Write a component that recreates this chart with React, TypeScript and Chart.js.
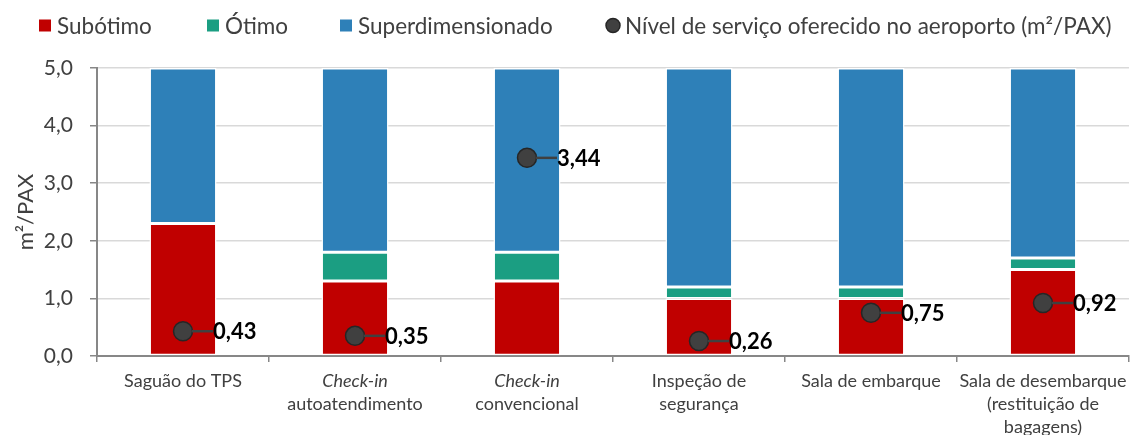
import React, { useEffect, useRef } from "react";
import { Chart, registerables } from "chart.js";

Chart.register(...registerables);

// ---- data ----
const categories: string[][] = [
  ["Saguão do TPS"],
  ["Check-in", "autoatendimento"],
  ["Check-in", "convencional"],
  ["Inspeção de", "segurança"],
  ["Sala de embarque"],
  ["Sala de desembarque", "(restituição de", "bagagens)"],
];
const italicFirstLine = [false, true, true, false, false, false];
const subotimo = [2.3, 1.3, 1.3, 1.0, 1.0, 1.5];
const otimo = [0, 0.5, 0.5, 0.2, 0.2, 0.2];
const superdimensionado = [2.7, 3.2, 3.2, 3.8, 3.8, 3.3];
const nivelServico = [0.43, 0.35, 3.44, 0.26, 0.75, 0.92];
const yTickValues = [0, 1, 2, 3, 4, 5];
const seriesNames = ["Subótimo", "Ótimo", "Superdimensionado", "Nível de serviço oferecido no aeroporto (m²/PAX)"];

// ---- style ----
const FONT = "Lato, 'Liberation Sans', sans-serif";
const RED = "#C00000";
const GREEN = "#1B9E82";
const BLUE = "#2E80B8";
const DOT = "#404040";
const TEXT = "#404040";
const legendX = [39, 207, 340, 606];

const fmt = (v: number, d: number) => v.toFixed(d).replace(".", ",");

export default function App() {
  const ref = useRef<HTMLCanvasElement | null>(null);

  useEffect(() => {
    document.body.style.margin = "0";
    const canvas = ref.current!;

    const customPlugin = {
      id: "custom",
      afterDatasetsDraw(chart: any) {
        const ctx = chart.ctx;
        const meta = chart.getDatasetMeta(3);
        ctx.save();
        meta.data.forEach((pt: any, i: number) => {
          const x = pt.x, y = pt.y;
          ctx.strokeStyle = DOT;
          ctx.lineWidth = 2.5;
          ctx.beginPath();
          ctx.moveTo(x + 9, y);
          ctx.lineTo(x + 30, y);
          ctx.stroke();
          ctx.fillStyle = "#000";
          ctx.font = `bold 22px ${FONT}`;
          ctx.textAlign = "left";
          ctx.textBaseline = "middle";
          ctx.fillText(fmt(nivelServico[i], 2), x + 30, y + 1);
        });
        ctx.restore();
      },
      afterDraw(chart: any) {
        const ctx = chart.ctx;
        const xs = chart.scales.x;
        const area = chart.chartArea;
        ctx.save();
        // x labels
        ctx.fillStyle = TEXT;
        ctx.textAlign = "center";
        ctx.textBaseline = "middle";
        categories.forEach((lines, i) => {
          const x = xs.getPixelForValue(i);
          lines.forEach((line, k) => {
            const it = k === 0 && italicFirstLine[i];
            ctx.font = `${it ? "italic " : ""}18px ${FONT}`;
            ctx.fillText(line, x, area.bottom + 25 + k * 23);
          });
        });
        // legend
        ctx.font = `22.5px ${FONT}`;
        ctx.textAlign = "left";
        const colors = [RED, GREEN, BLUE, DOT];
        seriesNames.forEach((name, i) => {
          const lx = legendX[i];
          const cy = 25.5;
          if (i < 3) {
            ctx.fillStyle = colors[i];
            ctx.fillRect(lx, cy - 6, 12, 12);
          } else {
            ctx.beginPath();
            ctx.arc(lx + 7, cy, 7, 0, Math.PI * 2);
            ctx.fillStyle = DOT;
            ctx.fill();
            ctx.strokeStyle = "#262626";
            ctx.lineWidth = 1.5;
            ctx.stroke();
          }
          ctx.fillStyle = TEXT;
          ctx.fillText(name, lx + (i < 3 ? 18 : 19), cy + 1);
        });
        ctx.restore();
      },
    };

    const barCommon = {
      type: "bar" as const,
      borderColor: "#ffffff",
      borderWidth: 1.5,
      borderSkipped: false,
      barPercentage: 0.39,
      categoryPercentage: 1,
      stack: "s",
      order: 1,
    };

    const chart = new Chart(canvas, {
      data: {
        labels: categories.map((c) => c.join(" ")),
        datasets: [
          { ...barCommon, label: seriesNames[0], data: subotimo, backgroundColor: RED },
          { ...barCommon, label: seriesNames[1], data: otimo, backgroundColor: GREEN },
          { ...barCommon, label: seriesNames[2], data: superdimensionado, backgroundColor: BLUE },
          {
            type: "line" as const,
            label: seriesNames[3],
            data: nivelServico,
            showLine: false,
            pointRadius: 9.5,
            pointHoverRadius: 9.5,
            pointBackgroundColor: DOT,
            pointBorderColor: "#262626",
            pointBorderWidth: 1.5,
            stack: "p",
            order: 0,
          },
        ],
      } as any,
      options: {
        animation: false,
        responsive: false,
        maintainAspectRatio: false,
        layout: { padding: { top: 68, bottom: 73, left: 0, right: 1 } },
        plugins: {
          legend: { display: false },
          tooltip: { enabled: false },
        },
        scales: {
          x: {
            stacked: true,
            offset: true,
            grid: {
              display: true,
              offset: true,
              drawOnChartArea: false,
              drawTicks: true,
              tickLength: 6,
              color: "#878787",
              lineWidth: 1.5,
            },
            border: { display: true, color: "#878787", width: 2 },
            ticks: { display: false },
          },
          y: {
            stacked: true,
            min: 0,
            max: 5,
            afterBuildTicks: (scale: any) => {
              scale.ticks = yTickValues.map((v) => ({ value: v }));
            },
            afterFit: (scale: any) => {
              scale.width = 97;
            },
            grid: {
              color: "#D9D9D9",
              lineWidth: 1.5,
              tickLength: 7,
              tickColor: "#878787",
            },
            border: { display: true, color: "#878787", width: 2 },
            ticks: {
              padding: 17,
              color: TEXT,
              font: { family: FONT, size: 21 },
              callback: (v: any) => fmt(Number(v), 1),
            },
            title: {
              display: true,
              text: "m²/PAX",
              color: TEXT,
              font: { family: FONT, size: 22 },
              padding: { top: 13, bottom: 0 },
            },
          },
        },
      } as any,
      plugins: [customPlugin],
    });

    return () => chart.destroy();
  }, []);

  return (
    <div style={{ width: 1140, height: 435, position: "relative" }}>
      <canvas ref={ref} width={1140} height={435} style={{ display: "block" }} />
    </div>
  );
}
